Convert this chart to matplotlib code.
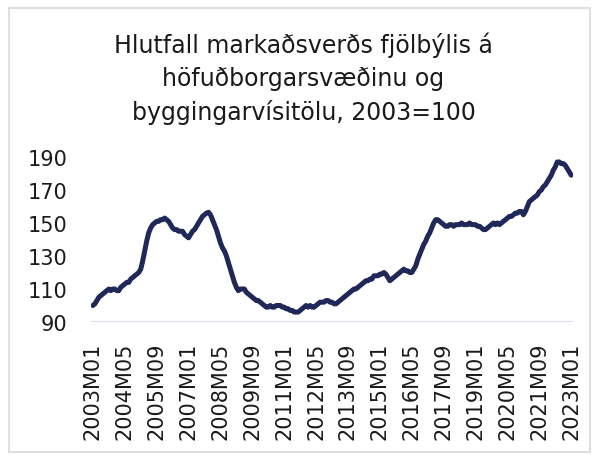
import matplotlib
matplotlib.use("Agg")
import matplotlib.pyplot as plt
import matplotlib.patches as patches

plt.rcParams['font.family'] = ['DejaVu Sans']

# monthly series, 2003M01 .. 2023M01 (2003=100)
y2003 = [100, 101, 103, 105, 106, 107, 108, 109, 110, 109, 110, 110]
y2004 = [109, 109, 111, 112, 113, 114, 114, 116, 117, 118, 119, 120]
y2005 = [122, 127, 133, 139, 144, 147, 149, 150, 151, 151, 152, 152]
y2006 = [153, 152, 151, 149, 147, 146, 146, 145, 145, 145, 143, 142]
y2007 = [141, 143, 145, 146, 148, 150, 152, 154, 155, 156, 156.5, 155]
y2008 = [152, 149, 146, 142, 138, 135, 133, 130, 126, 122, 118, 114]
y2009 = [111, 109, 110, 110, 110, 108, 107, 106, 105, 104, 103, 103]
y2010 = [102, 101, 100, 99, 99, 100, 99, 99, 100, 100, 100, 99]
y2011 = [99, 98, 98, 97, 97, 96, 96, 96, 97, 98, 99, 100]
y2012 = [99, 100, 99, 99, 100, 101, 102, 102, 102, 103, 103, 102]
y2013 = [102, 101, 101, 102, 103, 104, 105, 106, 107, 108, 109, 110]
y2014 = [110, 111, 112, 113, 114, 115, 115, 116, 116, 118, 118, 118]
y2015 = [119, 119, 120, 119, 117, 115, 116, 117, 118, 119, 120, 121]
y2016 = [122, 121, 121, 120, 120, 122, 124, 128, 131, 134, 137, 139]
y2017 = [142, 144, 147, 150, 152, 152, 151, 150, 149, 148, 148, 149]
y2018 = [149, 148, 149, 149, 149, 150, 149, 149, 149, 150, 149, 149]
y2019 = [149, 148, 148, 147, 146, 146, 147, 148, 149, 150, 149, 150]
y2020 = [149, 150, 151, 152, 153, 154, 154, 155, 156, 156, 157, 157]
y2021 = [155, 157, 160, 163, 164, 165, 166, 167, 169, 170, 172, 173]
y2022 = [175, 177, 179, 182, 184, 187, 187, 186, 186, 185, 183, 181]
y2023 = [179]

values = (y2003 + y2004 + y2005 + y2006 + y2007 + y2008 + y2009 + y2010 + y2011
          + y2012 + y2013 + y2014 + y2015 + y2016 + y2017 + y2018 + y2019
          + y2020 + y2021 + y2022 + y2023)
periods = [f"{2003 + i // 12}M{i % 12 + 1:02d}" for i in range(len(values))]
yticks = [90, 110, 130, 150, 170, 190]

fig = plt.figure(figsize=(5.94, 4.56), dpi=100)
ax = fig.add_axes([0.153, 0.2917, 0.812, 0.3618])

x = list(range(len(values)))
ax.plot(x, values, color='#1f2858', lw=3.6, solid_capstyle='round')
ax.axhline(90, color='#dcdcef', lw=1.5, zorder=0)

ax.set_ylim(90, 190)
ax.set_xlim(-1, len(values))
ax.set_yticks(yticks)
ax.set_xticks(x[::16])
ax.set_xticklabels(periods[::16], rotation=90)
ax.tick_params(length=0, colors='#1a1a1a', labelsize=15)
ax.tick_params(axis='y', pad=17)
ax.tick_params(axis='x', pad=14)
for s in ax.spines.values():
    s.set_visible(False)

# baseline of the last title line
fig.text(0.511, 0.7368,
         "Hlutfall markaðsverðs fjölbýlis á\nhöfuðborgarsvæðinu og\nbyggingarvísitölu, 2003=100",
         ha='center', va='baseline', fontsize=17, linespacing=1.45, color='#1a1a1a')

# light frame round the chart area
fig.add_artist(patches.Rectangle((0.0152, 0.0066), 0.978, 0.9734, transform=fig.transFigure,
                                 fill=False, edgecolor='#d9d9d9', lw=1.2))

fig.savefig("out.png", dpi=100)
